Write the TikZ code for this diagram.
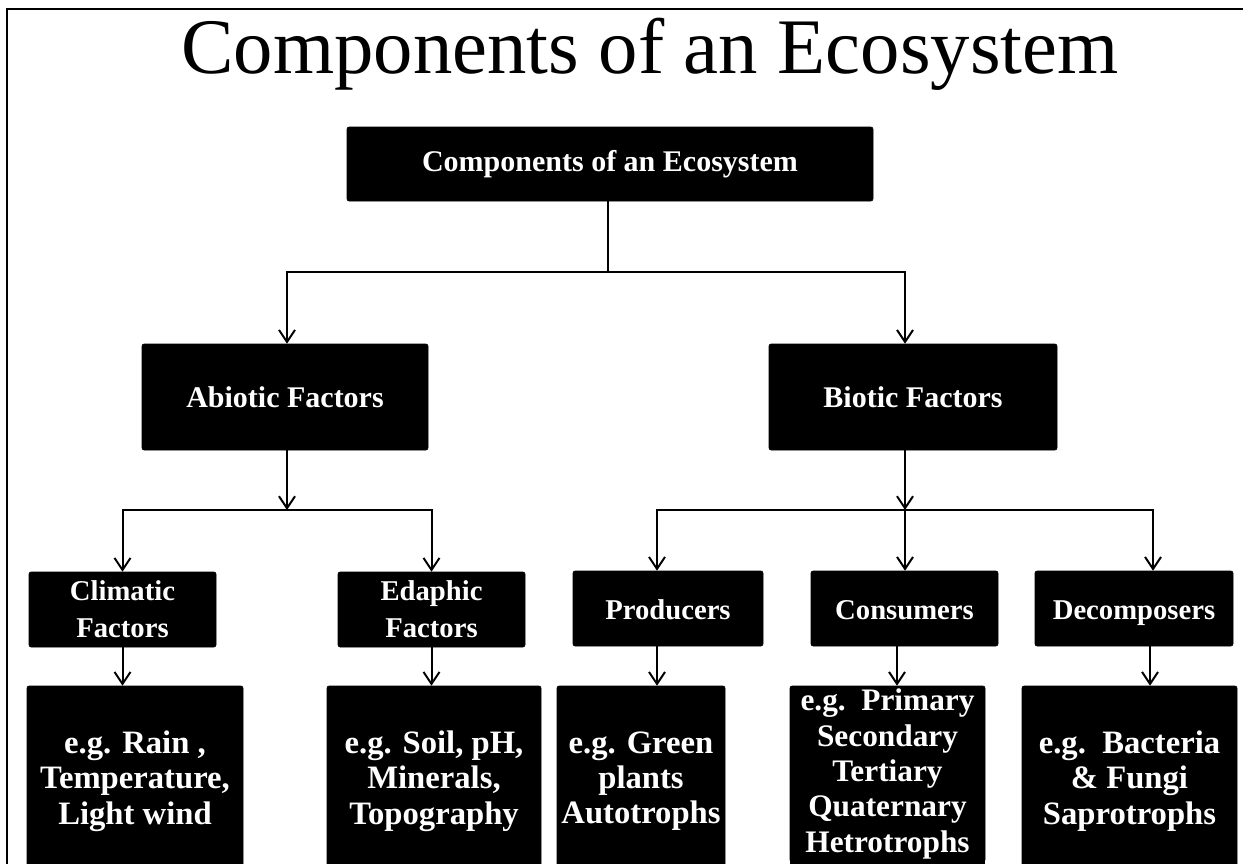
\documentclass[tikz,border=0pt]{standalone}
\usepackage{fontspec}
\setmainfont{Liberation Serif}
\usetikzlibrary{arrows.meta,calc}
\begin{document}
\begin{tikzpicture}[x=0.75pt,y=-0.75pt,
  box/.style={fill=black,draw=black,rounded corners=1.5pt,text=white,align=center,inner sep=0pt},
  lvl1/.style={box,font=\bfseries\fontsize{22.5}{27}\selectfont},
  lvl2/.style={box,font=\bfseries\fontsize{21.5}{27.5}\selectfont},
  one/.style={text height=18pt,text depth=2pt},
  lvl3/.style={box,font=\bfseries\fontsize{24.5}{26.5}\selectfont},
  conn/.style={line width=1.5pt},
  arr/.style={conn,-{Straight Barb[length=9pt,width=12pt]}}]
\useasboundingbox (0,0) rectangle (1243,864);
\clip (0,0) rectangle (1243,864);
\draw[line width=1.5pt] (7,870) -- (7,9) -- (1250,9);
\node[anchor=base,font=\fontsize{59}{60}\selectfont] (title) at (650,73) {Components of an Ecosystem};
% level 0
\node[lvl1,minimum width=526*0.75pt,minimum height=74*0.75pt] (top) at (610,164) {Components of an Ecosystem};
% level 1
\node[lvl1,minimum width=286*0.75pt,minimum height=106*0.75pt] (abiotic) at (285,397) {Abiotic Factors};
\node[lvl1,minimum width=288*0.75pt,minimum height=106*0.75pt] (biotic) at (913,397) {Biotic Factors};
% level 2
\node[lvl2,minimum width=187*0.75pt,minimum height=75*0.75pt] (clim) at (122.5,609.5) {Climatic\\Factors};
\node[lvl2,minimum width=187*0.75pt,minimum height=75*0.75pt] (edaph) at (431.5,609.5) {Edaphic\\Factors};
\node[lvl2,one,minimum width=190*0.75pt,minimum height=75*0.75pt] (prod) at (668,608.5) {Producers};
\node[lvl2,one,minimum width=187*0.75pt,minimum height=75*0.75pt] (cons) at (904.5,608.5) {Consumers};
\node[lvl2,one,minimum width=198*0.75pt,minimum height=75*0.75pt] (decomp) at (1134,608.5) {Decomposers};
% level 3
\node[lvl3,minimum width=216*0.75pt,minimum height=190*0.75pt] (ex1) at (135,781) {e.g. Rain ,\\Temperature,\\Light wind};
\node[lvl3,minimum width=214*0.75pt,minimum height=190*0.75pt] (ex2) at (434,781) {e.g. Soil, pH,\\Minerals,\\Topography};
\node[lvl3,minimum width=168*0.75pt,minimum height=190*0.75pt] (ex3) at (641,781) {e.g. Green\\plants\\Autotrophs};
\fill[black] (790,760) rectangle (985,870);
\node[lvl3,minimum width=195*0.75pt,minimum height=176*0.75pt,font=\bfseries\fontsize{23.5}{26.5}\selectfont] (ex4) at (887.5,774) {e.g.~~Primary\\Secondary\\Tertiary\\Quaternary\\Hetrotrophs};
\node[lvl3,minimum width=215*0.75pt,minimum height=190*0.75pt] (ex5) at (1129.5,781) {e.g.~~Bacteria\\\&~Fungi\\Saprotrophs};
% junctions
\coordinate (j0) at (608,272);
\coordinate (ja) at (287,510);
\coordinate (jb) at (905,510);
% connectors
\draw[line width=2.2pt] (top.south -| j0) -- (j0);
\draw[arr] (j0) -| ($(abiotic.north)+(2,0)$);
\draw[arr] (j0) -| ($(biotic.north)+(-8,0)$);
\draw[arr] ($(abiotic.south)+(2,0)$) -- (ja);
\draw[arr] (ja) -| (clim.north);
\draw[arr] (ja) -| (edaph.north);
\draw[arr] ($(biotic.south)+(-8,0)$) -- (jb);
\draw[arr] (jb) -| ($(prod.north)+(-11,0)$);
\draw[arr] (jb) -- (cons.north -| jb);
\draw[arr] (jb) -| ($(decomp.north)+(19,0)$);
\draw[arr] (clim.south) -- (ex1.north -| clim.south);
\draw[arr] (edaph.south) -- (ex2.north -| edaph.south);
\draw[arr] ($(prod.south)+(-11,0)$) -- ($(ex3.north)+(16,0)$);
\draw[arr] ($(cons.south)+(-7.5,0)$) -- ($(ex4.north)+(9.5,0)$);
\draw[arr] ($(decomp.south)+(16,0)$) -- ($(ex5.north)+(20.5,0)$);
\end{tikzpicture}
\end{document}
